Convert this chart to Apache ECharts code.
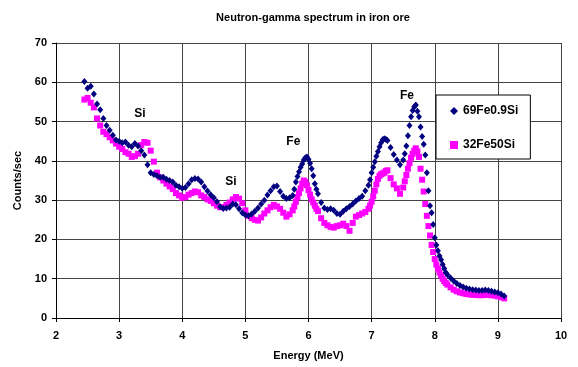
<!DOCTYPE html>
<html>
<head>
<meta charset="utf-8">
<script src="https://cdn.jsdelivr.net/npm/echarts@6/dist/echarts.min.js"></script>
<style>
    html, body {margin: 0; padding: 0; background: #fff;}
    #main {width: 578px; height: 367px;}
</style>
</head>
<body>
<div id="main"></div>
<script>
// energy channels (MeV), finer spacing on the steep flanks of the peaks
const energy = [
    2.45, 2.50, 2.55, 2.60, 2.65, 2.70, 2.75, 2.80, 2.85, 2.90, 2.95,
    3.00, 3.05, 3.10, 3.15, 3.20, 3.25, 3.30, 3.35, 3.40, 3.45,
    3.50, 3.55, 3.60, 3.65, 3.70, 3.75, 3.80, 3.85, 3.90, 3.95,
    4.00, 4.05, 4.10, 4.15, 4.20, 4.25, 4.30, 4.35, 4.40, 4.45,
    4.50, 4.55, 4.60, 4.65, 4.70, 4.75, 4.80, 4.85, 4.90, 4.95,
    5.00, 5.05, 5.10, 5.15, 5.20, 5.25, 5.30, 5.35, 5.40, 5.45,
    5.50, 5.55, 5.60, 5.65, 5.70,
    5.75, 5.775, 5.80, 5.825, 5.85, 5.875, 5.90, 5.925, 5.95, 5.975,
    6.00, 6.025, 6.05, 6.075, 6.10, 6.125, 6.15,
    6.20, 6.25, 6.30, 6.35, 6.40, 6.45,
    6.50, 6.55, 6.60, 6.65, 6.70, 6.75, 6.80, 6.85, 6.90,
    6.95, 6.975, 7.00, 7.025, 7.05, 7.075, 7.10, 7.125, 7.15, 7.175,
    7.20, 7.225, 7.25,
    7.30, 7.35, 7.40, 7.45,
    7.50, 7.525, 7.55, 7.575, 7.60, 7.625, 7.65, 7.675, 7.70, 7.725,
    7.75,
    7.775, 7.80, 7.825, 7.85, 7.875, 7.90, 7.925, 7.95, 7.975,
    8.00, 8.025, 8.05, 8.075, 8.10, 8.125, 8.15, 8.175, 8.20,
    8.25, 8.30, 8.35, 8.40, 8.45, 8.50, 8.55, 8.60, 8.65, 8.70,
    8.75, 8.80, 8.85, 8.90, 8.95, 9.00, 9.05, 9.10
];

// 69Fe0.9Si counts/sec
const fe69Si09 = [
    60.2, 58.5, 59.0, 57.0, 54.5, 53.0, 50.8, 49.0, 47.8, 46.5, 45.3,
    45.0, 44.6, 44.8, 44.0, 43.6, 44.4, 43.8, 42.6, 41.5, 39.0,
    37.0, 36.5, 36.2, 35.8, 35.8, 35.3, 35.0, 34.6, 33.8, 33.4,
    33.0, 33.2, 34.2, 35.2, 35.5, 35.4, 34.6, 33.4, 32.3, 31.4,
    30.6, 29.6, 28.3, 27.9, 28.0, 28.2, 29.0, 28.8, 27.8, 26.8,
    26.2, 26.0, 26.5, 27.2, 28.0, 29.0, 30.0, 31.3, 32.4, 33.4,
    33.6, 32.2, 31.0, 30.4, 30.6,
    31.2, 32.8, 34.6, 36.0, 37.2, 38.4, 39.2, 40.2, 40.8, 41.0,
    40.4, 39.4, 38.0, 36.2, 34.2, 32.8, 31.6,
    29.4, 28.0, 27.6, 27.8, 27.4, 26.6,
    26.4, 27.2, 27.8, 28.4, 29.0, 29.8, 30.4, 31.0, 32.4,
    33.8, 35.2, 37.0, 38.4, 39.8, 41.2, 42.4, 43.6, 44.6, 45.4,
    45.6, 45.5, 45.2,
    43.4, 41.6, 40.2, 39.0,
    40.2, 41.8, 43.8, 46.4, 49.0, 51.2, 52.8, 53.8, 54.2, 52.6,
    51.2,
    48.6, 46.2, 44.2, 41.5, 37.0, 32.4, 28.6, 26.8, 23.8,
    20.4, 18.6, 17.1, 15.8, 14.8, 13.6, 12.6, 11.6, 11.0,
    10.2, 9.4, 8.8, 8.3, 7.9, 7.6, 7.4, 7.2, 7.1, 7.0,
    7.0, 7.1, 7.0, 6.8, 6.6, 6.4, 6.1, 5.6
];

// 32Fe50Si counts/sec
const fe32Si50 = [
    55.6, 56.0, 54.8, 53.6, 50.8, 49.0, 47.4, 46.8, 46.0, 45.2, 44.4,
    43.6, 43.0, 42.2, 41.8, 41.0, 41.2, 41.8, 44.0, 44.8, 44.6,
    42.6, 39.8, 37.0, 35.8, 35.0, 34.2, 33.5, 32.8, 31.8, 31.2,
    30.6, 30.8, 31.4, 31.8, 32.2, 32.0, 31.2, 30.8, 30.2, 29.8,
    29.2, 28.6, 28.2, 28.2, 28.8, 29.4, 30.2, 30.8, 30.4, 29.2,
    27.4, 26.0, 25.4, 25.0, 24.8, 25.6, 26.6, 27.4, 28.2, 28.8,
    28.4, 27.8, 26.8, 25.8, 26.4,
    27.4, 28.4, 29.6, 30.8, 31.8, 33.0, 34.2, 35.0, 34.6, 33.8,
    32.6, 31.4, 30.2, 29.4, 28.6, 27.8, 27.2,
    25.4, 24.2, 23.6, 23.2, 23.0, 23.4,
    23.6, 24.0, 23.4, 22.2, 24.2, 25.8, 26.2, 26.6, 27.0,
    27.8, 28.6, 29.6, 31.0, 32.4, 34.0, 35.4, 36.2, 36.6, 36.8,
    37.0, 37.4, 37.6,
    35.6, 34.0, 33.0, 31.6,
    33.2, 34.8, 36.4, 38.0, 39.4, 40.8, 41.8, 42.6, 43.2, 42.4,
    41.0,
    38.0, 35.2, 32.2, 29.0, 26.0, 23.4, 21.0, 18.6, 16.8,
    15.0, 13.6, 12.6, 11.6, 10.8, 10.0, 9.4, 8.9, 8.5,
    7.8, 7.2, 6.8, 6.5, 6.3, 6.1, 6.0, 5.9, 5.9, 5.8,
    5.8, 5.9, 5.9, 5.8, 5.7, 5.5, 5.3, 5.0
];

// peak labels: text and where they sit in data units
const peakNames = ['Si', 'Si', 'Fe', 'Fe'];
const peakEnergy = [3.33, 4.77, 5.76, 7.56];
const peakCounts = [52.0, 34.6, 45.0, 56.6];

const FONT = 'Arial, "Liberation Sans", sans-serif';

function pairs(ys) {
    return energy.map((x, i) => [x, ys[i]]);
}

const option = {
    animation: false,
    backgroundColor: '#fff',
    title: {
        text: 'Neutron-gamma spectrum in iron ore',
        left: 308,
        textAlign: 'center',
        top: 7,
        textStyle: {fontFamily: FONT, fontSize: 11, fontWeight: 'bold', color: '#000'}
    },
    legend: {
        left: 436,
        top: 95,
        orient: 'vertical',
        data: ['69Fe0.9Si', '32Fe50Si'],
        backgroundColor: '#fff',
        borderColor: '#000',
        borderWidth: 1,
        padding: [10, 12, 8, 14],
        itemGap: 22,
        itemWidth: 8,
        itemHeight: 8,
        textStyle: {fontFamily: FONT, fontSize: 12, fontWeight: 'bold', color: '#000'}
    },
    grid: {left: 56, right: 17, top: 43, bottom: 49},
    xAxis: {
        type: 'value',
        min: 2,
        max: 10,
        interval: 1,
        name: 'Energy (MeV)',
        nameLocation: 'middle',
        nameGap: 32,
        nameTextStyle: {fontFamily: FONT, fontSize: 11, fontWeight: 'bold', color: '#000'},
        axisLine: {onZero: false, lineStyle: {color: '#000'}},
        axisTick: {length: 4, lineStyle: {color: '#000'}},
        axisLabel: {margin: 12, fontFamily: FONT, fontSize: 11, fontWeight: 'bold', color: '#000'},
        splitLine: {show: true, lineStyle: {color: '#444', width: 1}}
    },
    yAxis: {
        type: 'value',
        min: 0,
        max: 70,
        interval: 10,
        name: 'Counts/sec',
        nameLocation: 'middle',
        nameGap: 28,
        nameRotate: 90,
        nameTextStyle: {fontFamily: FONT, fontSize: 11, fontWeight: 'bold', color: '#000'},
        axisLine: {show: true, lineStyle: {color: '#000'}},
        axisTick: {show: true, length: 4, lineStyle: {color: '#000'}},
        axisLabel: {margin: 9, fontFamily: FONT, fontSize: 11, fontWeight: 'bold', color: '#000'},
        splitLine: {show: true, lineStyle: {color: '#444', width: 1}}
    },
    series: [
        {
            name: '69Fe0.9Si',
            type: 'scatter',
            symbol: 'diamond',
            symbolSize: [6, 7],
            itemStyle: {color: '#000080', opacity: 1},
            data: pairs(fe69Si09),
            z: 3,
            markPoint: {
                symbol: 'circle',
                symbolSize: 0,
                label: {
                    show: true,
                    position: 'inside',
                    formatter: p => p.name,
                    fontFamily: FONT,
                    fontSize: 12,
                    fontWeight: 'bold',
                    color: '#000'
                },
                data: peakNames.map((t, i) => ({name: t, coord: [peakEnergy[i], peakCounts[i]]}))
            }
        },
        {
            name: '32Fe50Si',
            type: 'scatter',
            symbol: 'rect',
            symbolSize: 6,
            itemStyle: {color: '#ff00ff', opacity: 1},
            data: pairs(fe32Si50),
            z: 2
        }
    ]
};

const myChart = echarts.init(document.getElementById('main'), null, {renderer: 'canvas'});
myChart.setOption(option);
</script>
</body>
</html>
